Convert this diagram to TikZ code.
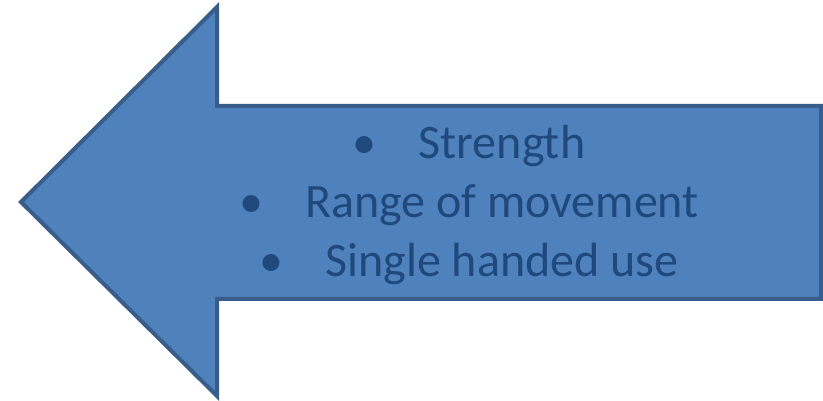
\documentclass[tikz,border=0pt]{standalone}
\usepackage{fontspec}
\setmainfont{Carlito}
\definecolor{arrowfill}{HTML}{4F81BD}
\definecolor{arrowline}{HTML}{385D8A}
\definecolor{arrowtext}{HTML}{1F497D}
\tikzset{
  bigarrow/.style={fill=arrowfill, draw=arrowline, line width=4pt, line join=miter},
  bullets/.style={text=arrowtext, font=\fontsize{48}{59}\selectfont, align=center, inner sep=0pt}
}
\newcommand{\bulletline}[1]{\textbullet\hspace{42pt}#1}
\begin{document}
\begin{tikzpicture}[x=1pt,y=1pt]
  \useasboundingbox (0,0) rectangle (823,401);
  % left-pointing block arrow
  \coordinate (tip) at (21,199);
  \coordinate (headtop) at (217,394);
  \coordinate (shafttop) at (217,295);
  \coordinate (endtop) at (821,295);
  \coordinate (endbot) at (821,102);
  \coordinate (shaftbot) at (217,102);
  \coordinate (headbot) at (217,5);
  \draw[bigarrow] (tip) -- (headtop) -- (shafttop) -- (endtop) -- (endbot)
    -- (shaftbot) -- (headbot) -- cycle;
  % bulleted list inside the shaft
  \node[bullets] (list) at (469,196)
    {\bulletline{Strength}\\ \bulletline{Range of movement}\\ \bulletline{Single handed use}};
\end{tikzpicture}
\end{document}
